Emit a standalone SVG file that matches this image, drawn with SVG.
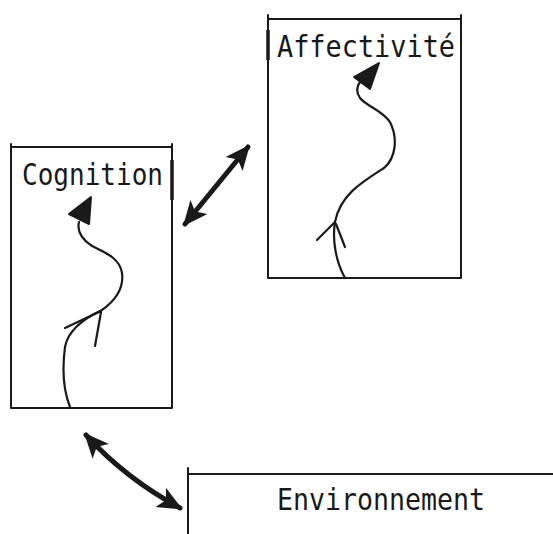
<svg xmlns="http://www.w3.org/2000/svg" width="553" height="534" viewBox="0 0 553 534">
<style>
.box{fill:none;stroke:#1a1a1a;stroke-width:2;stroke-linecap:round}
.lbl{font-family:"DejaVu Sans Mono","Liberation Mono",monospace;font-size:30px;fill:#1a1a1a}
.link{fill:none;stroke:#1a1a1a;stroke-width:5;stroke-linecap:round}
.flow{fill:none;stroke:#1a1a1a;stroke-width:2.2;stroke-linecap:round;stroke-linejoin:round}
.head{fill:#1a1a1a;stroke:#1a1a1a;stroke-width:2;stroke-linejoin:round}
</style>
<defs>
<marker id="big" markerUnits="userSpaceOnUse" viewBox="0 0 26 24" refX="22" refY="12" markerWidth="26" markerHeight="24" orient="auto-start-reverse">
<path d="M0,1 L25,12 L0,23 L6,12 Z" fill="#1a1a1a"/>
</marker>
</defs>
<g id="affectivite">
<path class="box" d="M268,15 V278 M268,19 H461 M461,15 V278 M268,278 H461"/>
<path d="M268,30 V60" stroke="#1a1a1a" stroke-width="3.5"/>
<text class="lbl" x="277" y="57" textLength="178" lengthAdjust="spacingAndGlyphs">Affectivité</text>
<path class="flow" d="M345,278 C336,262 332,240 335,222 C340,195 362,182 384,168 C396,158 398,138 390,122 C382,110 366,106 360,98 C356,92 357,86 360,82"/>
<path class="head" d="M354,77 L379,63 L370,89 Z"/>
<path class="flow" d="M335,222 L317,240 M336,224 L345,247"/>
</g>
<g id="cognition">
<path class="box" d="M11,144 V408 M11,147 H172 M172,144 V408 M11,408 H172"/>
<path d="M172,160 V200" stroke="#1a1a1a" stroke-width="3.5"/>
<text class="lbl" x="22" y="185" textLength="141" lengthAdjust="spacingAndGlyphs">Cognition</text>
<path class="flow" d="M70,407 C64,392 62,370 65,347 C68,330 85,318 102,310 C116,300 124,288 122,273 C120,258 104,252 92,246 C80,238 77,230 79,222"/>
<path class="head" d="M69,214 L91,197 L89,224 Z"/>
<path class="flow" d="M101,311 L65,328 M101,312 L95,346"/>
</g>
<g id="environnement">
<path class="box" d="M188,468 V534 M188,474 H553"/>
<text class="lbl" x="277" y="510" textLength="208" lengthAdjust="spacingAndGlyphs">Environnement</text>
</g>
<g id="connectors">
<path class="link" d="M185,224 L248,147" marker-start="url(#big)" marker-end="url(#big)"/>
<path class="link" d="M86,435 Q125,478 180,508" marker-start="url(#big)" marker-end="url(#big)"/>
</g>
</svg>
